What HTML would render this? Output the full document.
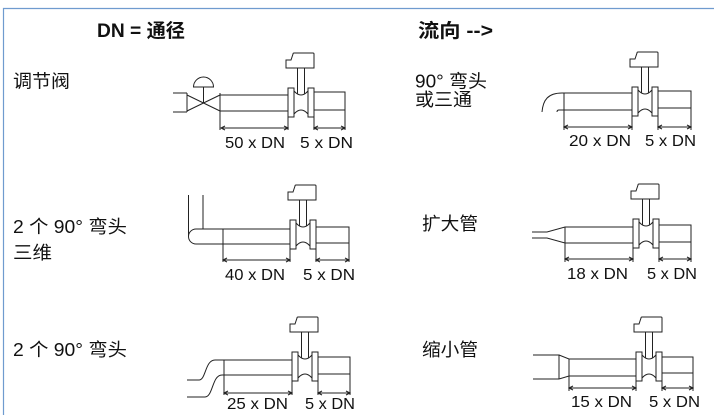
<!DOCTYPE html>
<html>
<head>
<meta charset="utf-8">
<style>
html,body{margin:0;padding:0;background:#fff;}
body{width:714px;height:415px;overflow:hidden;}
svg{display:block;}
.t{font-family:"Liberation Sans","Noto Sans CJK SC",sans-serif;fill:#111;}
.b{font-weight:bold;}
</style>
</head>
<body>
<svg width="714" height="415" viewBox="0 0 714 415" xmlns="http://www.w3.org/2000/svg">
<defs>
<g id="m" fill="none" stroke="#222" stroke-width="1">
<rect x="0" y="0" width="6" height="29" fill="#fff"/>
<rect x="20" y="0" width="6" height="29" fill="#fff"/>
<path d="M6,3 Q13,11 20,3 M6,26 Q13,18 20,26"/>
<path d="M9.5,-20 V5.5 M16.5,-20 V5.5"/>
<path d="M-2,-28 H3 L5,-34 Q5,-35 6,-35 H25 Q26,-35 26,-34 V-20 H-2 Z" fill="#fff"/>
</g>
</defs>

<!-- border -->
<path d="M3.5,415 V8.5 H714" fill="none" stroke="#6f9bcf" stroke-width="1.2"/>

<!-- headings -->
<text class="t b" x="97" y="37" font-size="19" textLength="88" lengthAdjust="spacingAndGlyphs">DN = 通径</text>
<text class="t b" x="418" y="37" font-size="19" textLength="75" lengthAdjust="spacingAndGlyphs">流向 --&gt;</text>

<!-- left labels -->
<text class="t" x="13" y="87.5" font-size="18" textLength="57" lengthAdjust="spacingAndGlyphs">调节阀</text>
<text class="t" x="13" y="233" font-size="18" textLength="114" lengthAdjust="spacingAndGlyphs">2 个 90° 弯头</text>
<text class="t" x="13" y="259" font-size="18" textLength="39" lengthAdjust="spacingAndGlyphs">三维</text>
<text class="t" x="13" y="356" font-size="18" textLength="114" lengthAdjust="spacingAndGlyphs">2 个 90° 弯头</text>

<!-- right labels -->
<text class="t" x="415" y="87.5" font-size="18" textLength="72" lengthAdjust="spacingAndGlyphs">90° 弯头</text>
<text class="t" x="415" y="106" font-size="18" textLength="57" lengthAdjust="spacingAndGlyphs">或三通</text>
<text class="t" x="422" y="230" font-size="18" textLength="56" lengthAdjust="spacingAndGlyphs">扩大管</text>
<text class="t" x="422" y="356" font-size="18" textLength="56" lengthAdjust="spacingAndGlyphs">缩小管</text>

<g fill="none" stroke="#222" stroke-width="1">
<!-- Panel 1 -->
<path d="M173,93 H187 M173,112 H187 M187,93 V112 M220,93 V130 M187,95 L220,111 M187,111 L220,95 M203.5,103 V87"/>
<path d="M193.5,87 A10,10 0 0 1 213.5,87 Z" fill="#fff"/>
<path d="M220,95 H288 M220,111 H288"/>
<path d="M314,92 H345 V130 M314,110 H345"/>
<path d="M288,117 V130 M314,117 V130"/>
<path d="M221,128 H288 M225,126 L221,128 L225,130 M284,126 L288,128 L284,130"/>
<path d="M314,128 H345 M318,126 L314,128 L318,130 M341,126 L345,128 L341,130"/>
<use href="#m" x="288" y="88"/>

<!-- Panel 2 -->
<path d="M542,112 C543,100 548,93 562,93 H632"/>
<path d="M557,112 Q557,110 559,110 H632"/>
<path d="M564,93 V130"/>
<path d="M658,91 H691 V130 M658,108 H691"/>
<path d="M632,116 V130 M658,116 V130"/>
<path d="M564,127 H632 M568,125 L564,127 L568,129 M628,125 L632,127 L628,129"/>
<path d="M658,127 H691 M662,125 L658,127 L662,129 M687,125 L691,127 L687,129"/>
<use href="#m" x="632" y="87"/>

<!-- Panel 3 -->
<path d="M188.5,195 V236.5 M196,229 A7.5,7.5 0 0 0 196,244 M203,195 V229"/>
<path d="M196,229 H290 M196,244 H290"/>
<path d="M223,229 V262"/>
<path d="M316,227 H349 V262 M316,243 H349"/>
<path d="M290,249 V262 M316,249 V262"/>
<path d="M223,260 H290 M227,258 L223,260 L227,262 M286,258 L290,260 L286,262"/>
<path d="M316,260 H349 M320,258 L316,260 L320,262 M345,258 L349,260 L345,262"/>
<use href="#m" x="290" y="220"/>

<!-- Panel 4 -->
<path d="M532,232 H547 L565,227 H633 M532,238 H547 L565,243 H633"/>
<path d="M565,227 V262"/>
<path d="M659,225 H691 V262 M659,242 H691"/>
<path d="M633,248 V262 M659,248 V262"/>
<path d="M565,259 H633 M569,257 L565,259 L569,261 M629,257 L633,259 L629,261"/>
<path d="M659,259 H691 M663,257 L659,259 L663,261 M687,257 L691,259 L687,261"/>
<use href="#m" x="633" y="219"/>

<!-- Panel 5 -->
<path d="M187,380 H199 C206,380 205,360 215,360 H292"/>
<path d="M187,397 H205 C213,397 212,375 222,375 H292"/>
<path d="M224,360 V395"/>
<path d="M318,357 H350 V395 M318,374 H350"/>
<path d="M292,381 V395 M318,381 V395"/>
<path d="M224,393 H292 M228,391 L224,393 L228,395 M288,391 L292,393 L288,395"/>
<path d="M318,393 H350 M322,391 L318,393 L322,395 M346,391 L350,393 L346,395"/>
<use href="#m" x="292" y="352"/>

<!-- Panel 6 -->
<path d="M533,355 H559 V379 M533,379 H559"/>
<path d="M559,355 L569,359 H636 M559,379 L569,376 H636"/>
<path d="M569,359 V391"/>
<path d="M662,357 H693 V391 M662,373 H693"/>
<path d="M636,381 V391 M662,381 V391"/>
<path d="M569,388 H636 M573,386 L569,388 L573,390 M632,386 L636,388 L632,390"/>
<path d="M662,388 H693 M666,386 L662,388 L666,390 M689,386 L693,388 L689,390"/>
<use href="#m" x="636" y="352"/>
</g>

<!-- dimension labels -->
<text class="t" x="225" y="148" font-size="16" textLength="60" lengthAdjust="spacingAndGlyphs">50 x DN</text>
<text class="t" x="300" y="148" font-size="16" textLength="53" lengthAdjust="spacingAndGlyphs">5 x DN</text>
<text class="t" x="569" y="146" font-size="16" textLength="62" lengthAdjust="spacingAndGlyphs">20 x DN</text>
<text class="t" x="645" y="146" font-size="16" textLength="51" lengthAdjust="spacingAndGlyphs">5 x DN</text>
<text class="t" x="225" y="280" font-size="16" textLength="60" lengthAdjust="spacingAndGlyphs">40 x DN</text>
<text class="t" x="303" y="280" font-size="16" textLength="52" lengthAdjust="spacingAndGlyphs">5 x DN</text>
<text class="t" x="567" y="279" font-size="16" textLength="61" lengthAdjust="spacingAndGlyphs">18 x DN</text>
<text class="t" x="647" y="279" font-size="16" textLength="50" lengthAdjust="spacingAndGlyphs">5 x DN</text>
<text class="t" x="227" y="409" font-size="16" textLength="61" lengthAdjust="spacingAndGlyphs">25 x DN</text>
<text class="t" x="305" y="409" font-size="16" textLength="50" lengthAdjust="spacingAndGlyphs">5 x DN</text>
<text class="t" x="571" y="407" font-size="16" textLength="61" lengthAdjust="spacingAndGlyphs">15 x DN</text>
<text class="t" x="649" y="407" font-size="16" textLength="51" lengthAdjust="spacingAndGlyphs">5 x DN</text>
</svg>
</body>
</html>
